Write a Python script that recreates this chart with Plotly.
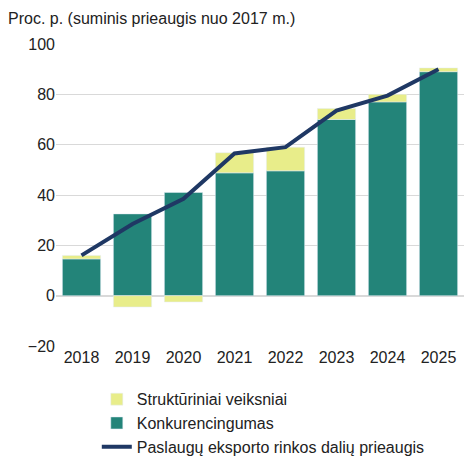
import plotly.graph_objects as go

years = ["2018", "2019", "2020", "2021", "2022", "2023", "2024", "2025"]
konkurencingumas = [14.6, 32.5, 41, 48.8, 49.6, 70, 77, 89]
strukturiniai = [1.4, -4.5, -2.5, 8, 9.4, 4.4, 3, 1.5]
prieaugis = [16, 28.5, 38.5, 56.5, 59, 73.5, 79.5, 90]

fig = go.Figure()
# teal first so it sits at the bottom of the stack
fig.add_trace(go.Bar(x=years, y=konkurencingumas, name="Konkurencingumas",
                     marker_color="#238479", legendrank=2))
fig.add_trace(go.Bar(x=years, y=strukturiniai, name="Struktūriniai veiksniai",
                     marker_color="#e8ed8a", legendrank=1))
fig.add_trace(go.Scatter(x=years, y=prieaugis, mode="lines",
                         name="Paslaugų eksporto rinkos dalių prieaugis",
                         line=dict(color="#1f3864", width=4), legendrank=3))

fig.update_layout(
    width=474, height=468, barmode="relative", bargap=0.25,
    plot_bgcolor="white", paper_bgcolor="white",
    font=dict(family="Liberation Sans, Arial", size=16, color="#222"),
    margin=dict(l=48, r=18, t=36, b=130),
    title=dict(text="Proc. p. (suminis prieaugis nuo 2017 m.)", x=0.0, xanchor="left",
               y=0.99, yanchor="top", font=dict(size=16)),
    legend=dict(orientation="v", x=0.1, y=-0.12, xanchor="left", yanchor="top",
                font=dict(size=16), tracegroupgap=0),
)
fig.update_yaxes(range=[-20, 100], dtick=20, showgrid=True, gridcolor="#d9d9d9",
                 zeroline=True, zerolinecolor="#d9d9d9", ticks="")
fig.update_xaxes(showline=False, ticks="")
fig.write_html("out.html")
